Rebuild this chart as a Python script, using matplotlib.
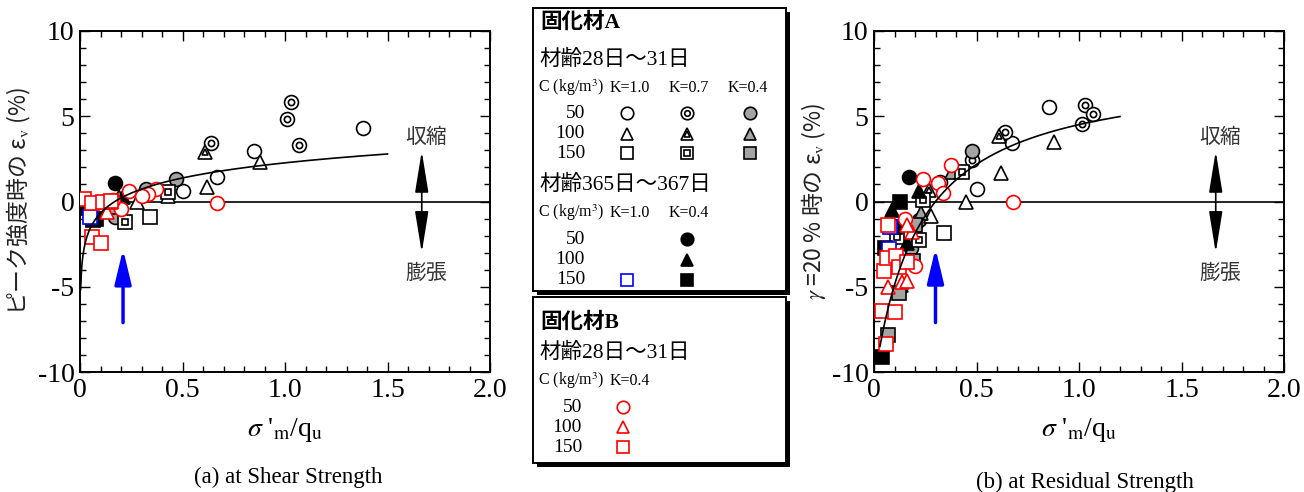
import numpy as np
import matplotlib
matplotlib.use('Agg')
import matplotlib.pyplot as plt
from matplotlib.patches import Rectangle
from matplotlib.ticker import MultipleLocator

plt.rcParams['font.family'] = ['Liberation Serif', 'Noto Sans CJK JP']
plt.rcParams['mathtext.fontset'] = 'stix'
plt.rcParams['axes.unicode_minus'] = False

W, H = 1304, 492
JP = ['Noto Sans CJK JP', 'Liberation Serif']

# ---------------- data: (a) at shear (peak) strength ----------------
# 固化材A, 材齢28日～31日
pk_k10_c50 = [(1.38, 4.33), (0.85, 2.98), (0.67, 1.42), (0.50, 0.62)]
pk_k07_c50 = [(1.03, 5.82), (1.01, 4.84), (1.07, 3.31), (0.64, 3.41)]
pk_k04_c50 = [(0.47, 1.32), (0.17, -0.90), (0.32, 0.75)]
pk_k10_c100 = [(0.88, 2.34), (0.62, 0.83), (0.43, 0.35), (0.28, 0.00)]
pk_k07_c100 = [(0.61, 2.92)]
pk_k04_c100 = [(0.19, 0.25)]
pk_k10_c150 = [(0.34, -0.89)]
pk_k07_c150 = [(0.43, 0.58), (0.22, -1.18)]
pk_k04_c150 = [(0.15, -0.30)]
# 固化材A, 材齢365日～367日
pk_old_k04_c50 = [(0.17, 1.07)]
pk_old_k04_c100 = [(0.21, 0.28)]
pk_old_k04_c150 = [(0.03, -0.40), (0.08, -1.00), (0.065, -1.10)]
pk_old_k10_c150 = [(0.05, -0.90)]
# 固化材B
pk_b_c50 = [(0.67, -0.07), (0.24, 0.63), (0.37, 0.71), (0.33, 0.45),
            (0.30, 0.32), (0.20, -0.42), (0.16, 0.10)]
pk_b_c100 = [(0.13, -0.60), (0.15, 0.00)]
pk_b_c150 = [(0.02, 0.12), (0.06, -0.10), (0.11, 0.00), (0.15, 0.05),
             (0.06, -2.10), (0.10, -2.45)]

# ---------------- data: (b) at residual strength (γ=20%) ----------------
rs_k10_c50 = [(0.855, 5.56), (0.675, 3.41), (0.504, 0.73), (0.32, 1.16)]
rs_k07_c50 = [(1.03, 5.66), (1.07, 5.13), (1.015, 4.55), (0.64, 4.06), (0.48, 2.43)]
rs_k04_c50 = [(0.48, 2.96), (0.18, -2.75), (0.22, -1.10)]
rs_k10_c100 = [(0.88, 3.47), (0.62, 1.65), (0.45, 0.00), (0.28, -0.85)]
rs_k07_c100 = [(0.61, 3.84), (0.27, 0.67)]
rs_k04_c100 = [(0.38, 1.75), (0.23, -0.70), (0.13, -4.90)]
rs_k10_c150 = [(0.34, -1.87)]
rs_k07_c150 = [(0.43, 1.75), (0.24, 0.09), (0.22, -2.26), (0.11, -2.10)]
rs_k04_c150 = [(0.12, -5.39), (0.07, -7.83), (0.20, -1.38), (0.19, -3.50)]
rs_old_k04_c50 = [(0.17, 1.46)]
rs_old_k04_c100 = [(0.22, 0.63), (0.09, -0.50), (0.16, -2.45)]
rs_old_k04_c150 = [(0.127, 0.00), (0.04, -9.10), (0.055, -2.75), (0.10, -1.50)]
rs_old_k10_c150 = [(0.073, -2.80), (0.078, -1.50)]
rs_b_c50 = [(0.677, 0.00), (0.374, 2.14), (0.24, 1.32), (0.31, 1.07),
            (0.335, 0.52), (0.15, -1.05), (0.20, -3.76)]
rs_b_c100 = [(0.184, -1.80), (0.16, -1.38), (0.135, -4.70), (0.16, -4.66), (0.07, -5.03)]
rs_b_c150 = [(0.07, -1.38), (0.05, -4.06), (0.065, -3.30), (0.106, -3.20), (0.12, -3.82),
             (0.16, -3.57), (0.04, -6.40), (0.10, -6.46), (0.06, -8.36)]

# fitted curves
pk_fit_b, pk_fit_x0, pk_fit_range = 1.28, 0.17, (0.003, 1.5)     # y = b ln(x/x0)
rs_fit_x0, rs_fit_a, rs_fit_b, rs_fit_range = 0.30, 0.0282, 0.127, (0.029, 1.2)  # y = (x-x0)/(a+bx)

# blue arrows (x position, y from, y to)
pk_arrow = (0.21, -7.1, -2.8)
rs_arrow = (0.30, -7.1, -2.75)

xticks = [0, 0.5, 1.0, 1.5, 2.0]
xticklabels = ['0', '0.5', '1.0', '1.5', '2.0']
yticks = [-10, -5, 0, 5, 10]

GRAY = '#a3a3a3'
STYLE = {
    'k10_c50': dict(m='o', fc='white', ec='black'),
    'k07_c50': dict(m='o', fc='white', ec='black', inner=True),
    'k04_c50': dict(m='o', fc=GRAY, ec='black'),
    'k10_c100': dict(m='^', fc='white', ec='black'),
    'k07_c100': dict(m='^', fc='white', ec='black', inner=True),
    'k04_c100': dict(m='^', fc=GRAY, ec='black'),
    'k10_c150': dict(m='s', fc='white', ec='black'),
    'k07_c150': dict(m='s', fc='white', ec='black', inner=True),
    'k04_c150': dict(m='s', fc=GRAY, ec='black'),
    'old_k04_c50': dict(m='o', fc='black', ec='black'),
    'old_k04_c100': dict(m='^', fc='black', ec='black'),
    'old_k04_c150': dict(m='s', fc='black', ec='black'),
    'old_k10_c150': dict(m='s', fc='white', ec='blue'),
    'b_c50': dict(m='o', fc='white', ec='red'),
    'b_c100': dict(m='^', fc='white', ec='red'),
    'b_c150': dict(m='s', fc='white', ec='red'),
}


def draw(ax, pts, key, ms=10, z=3):
    st = STYLE[key]
    xs = [p[0] for p in pts]
    ys = [p[1] for p in pts]
    ax.plot(xs, ys, ls='none', marker=st['m'], ms=ms, mfc=st['fc'], mec=st['ec'],
            mew=1.2, zorder=z)
    if st.get('inner'):
        ax.plot(xs, ys, ls='none', marker=st['m'], ms=ms * 0.45, mfc='none',
                mec=st['ec'], mew=1.2, zorder=z)


def setup(ax, ylabel, label_x):
    ax.set_xlim(0, 2.0)
    ax.set_ylim(-10, 10)
    ax.set_xticks(xticks)
    ax.set_xticklabels(xticklabels)
    ax.set_yticks(yticks)
    ax.xaxis.set_minor_locator(MultipleLocator(0.1))
    ax.yaxis.set_minor_locator(MultipleLocator(1))
    ax.tick_params(which='both', direction='in', top=True, right=True, width=1.0)
    ax.tick_params(which='major', length=7, labelsize=20, pad=4)
    ax.tick_params(which='minor', length=4)
    for s in ax.spines.values():
        s.set_linewidth(1.4)
    ax.axhline(0, color='black', lw=1.2, zorder=1)
    ax.set_xlabel(r"$\sigma$ '$_{\rm m}$/q$_{\rm u}$", fontsize=20, labelpad=10)
    ax.set_ylabel(ylabel, fontsize=16.5, family=JP, color='#222222')
    ax.yaxis.set_label_coords(label_x, 0.5)
    # double arrow and labels
    ax.annotate('', xy=(1.667, 2.95), xytext=(1.667, -3.0),
                arrowprops=dict(arrowstyle='<|-|>,head_length=1.6,head_width=0.26',
                                color='black', lw=1.2, mutation_scale=16, shrinkA=0, shrinkB=0))
    ax.text(1.69, 3.8, '収縮', family=JP, fontsize=15, ha='center', va='center', color='#333333')
    ax.text(1.69, -4.2, '膨張', family=JP, fontsize=15, ha='center', va='center', color='#333333')


def panel(ax, sets, fit_x, fit_y, arrow):
    for key, pts in sets:
        draw(ax, pts, key)
    ax.plot(fit_x, fit_y, color='black', lw=1.2, zorder=4)
    x, y0, y1 = arrow
    ax.annotate('', xy=(x, y1), xytext=(x, y0),
                arrowprops=dict(arrowstyle='-|>,head_length=1.5,head_width=0.36',
                                color='blue', lw=2.5, mutation_scale=14, shrinkA=0, shrinkB=0),
                zorder=5)


fig = plt.figure(figsize=(W / 100, H / 100), dpi=100)
axa = fig.add_axes([80 / W, 1 - 372 / H, 410 / W, 341 / H])
axb = fig.add_axes([874 / W, 1 - 372 / H, 410 / W, 341 / H])

setup(axa, "ピーク強度時の ε$_{\\rm v}$ (%)", -0.115)
setup(axb, "$\\gamma$ =20 % 時の ε$_{\\rm v}$ (%)", -0.112)

fx = np.linspace(*pk_fit_range, 400)
panel(axa, [('k10_c50', pk_k10_c50), ('k07_c50', pk_k07_c50), ('k04_c50', pk_k04_c50),
            ('k10_c100', pk_k10_c100), ('k07_c100', pk_k07_c100), ('k04_c100', pk_k04_c100),
            ('k10_c150', pk_k10_c150), ('k07_c150', pk_k07_c150), ('k04_c150', pk_k04_c150),
            ('old_k04_c50', pk_old_k04_c50), ('old_k04_c100', pk_old_k04_c100),
            ('old_k04_c150', pk_old_k04_c150), ('old_k10_c150', pk_old_k10_c150),
            ('b_c50', pk_b_c50), ('b_c100', pk_b_c100), ('b_c150', pk_b_c150)],
      fx, pk_fit_b * np.log(fx / pk_fit_x0), pk_arrow)

rx = np.linspace(*rs_fit_range, 400)
panel(axb, [('k10_c50', rs_k10_c50), ('k07_c50', rs_k07_c50), ('k04_c50', rs_k04_c50),
            ('k10_c100', rs_k10_c100), ('k07_c100', rs_k07_c100), ('k04_c100', rs_k04_c100),
            ('k10_c150', rs_k10_c150), ('k07_c150', rs_k07_c150), ('k04_c150', rs_k04_c150),
            ('old_k04_c50', rs_old_k04_c50), ('old_k04_c100', rs_old_k04_c100),
            ('old_k04_c150', rs_old_k04_c150), ('old_k10_c150', rs_old_k10_c150),
            ('b_c50', rs_b_c50), ('b_c100', rs_b_c100), ('b_c150', rs_b_c150)],
      rx, (rx - rs_fit_x0) / (rs_fit_a + rs_fit_b * rx), rs_arrow)

fig.text(288 / W, 1 - 477 / H, '(a) at Shear Strength', ha='center', va='center', fontsize=16.5)
fig.text(1085 / W, 1 - 482 / H, '(b) at Residual Strength', ha='center', va='center', fontsize=16.5)

# ---------------- legend boxes (pixel coordinates) ----------------
lax = fig.add_axes([0, 0, 1, 1], zorder=10)
lax.set_xlim(0, W)
lax.set_ylim(H, 0)
lax.axis('off')


def box(x0, y0, x1, y1):
    lax.add_patch(Rectangle((x0 + 4, y0 + 4), x1 - x0, y1 - y0, fc='black', ec='none'))
    lax.add_patch(Rectangle((x0, y0), x1 - x0, y1 - y0, fc='white', ec='black', lw=1.4))


def legend_mark(x, y, key):
    st = STYLE[key]
    lax.plot([x], [y], ls='none', marker=st['m'], ms=9, mfc=st['fc'], mec=st['ec'], mew=1.2)
    if st.get('inner'):
        lax.plot([x], [y], ls='none', marker=st['m'], ms=4, mfc='none', mec=st['ec'], mew=1.2)


conc = ['50', '100', '150']
kvals = ['K=1.0', 'K=0.7', 'K=0.4']
cunit = 'C (kg/m$^3$)'

box(533, 8, 786, 291)
lax.text(540, 23, '固化材A', fontsize=15.5, weight='bold', va='center')
lax.text(539, 60, '材齢28日～31日', fontsize=15.5, va='center')
lax.text(538, 88, cunit, fontsize=11.5, va='center')
for kx, kl in zip([610, 669, 728], kvals):
    lax.text(kx, 88, kl, fontsize=11.5, va='center')
for cy, cl, ck in zip([113, 134, 153], conc, ['c50', 'c100', 'c150']):
    lax.text(585, cy, cl, fontsize=14, ha='right', va='center')
    for mx, kk in zip([627, 687, 750], ['k10', 'k07', 'k04']):
        legend_mark(mx, cy, kk + '_' + ck)
lax.text(539, 185, '材齢365日～367日', fontsize=15.5, va='center')
lax.text(538, 213, cunit, fontsize=11.5, va='center')
lax.text(610, 213, 'K=1.0', fontsize=11.5, va='center')
lax.text(669, 213, 'K=0.4', fontsize=11.5, va='center')
for cy, cl, ck in zip([239, 260, 280], conc, ['c50', 'c100', 'c150']):
    lax.text(585, cy, cl, fontsize=14, ha='right', va='center')
    legend_mark(687, cy, 'old_k04_' + ck)
legend_mark(627, 280, 'old_k10_c150')

box(533, 297, 786, 463)
lax.text(540, 323, '固化材B', fontsize=15.5, weight='bold', va='center')
lax.text(539, 353, '材齢28日～31日', fontsize=15.5, va='center')
lax.text(538, 381, cunit, fontsize=11.5, va='center')
lax.text(610, 381, 'K=0.4', fontsize=11.5, va='center')
for cy, cl, ck in zip([407, 427, 447], conc, ['c50', 'c100', 'c150']):
    lax.text(582, cy, cl, fontsize=14, ha='right', va='center')
    legend_mark(623, cy, 'b_' + ck)

fig.savefig('out.png', dpi=100)
